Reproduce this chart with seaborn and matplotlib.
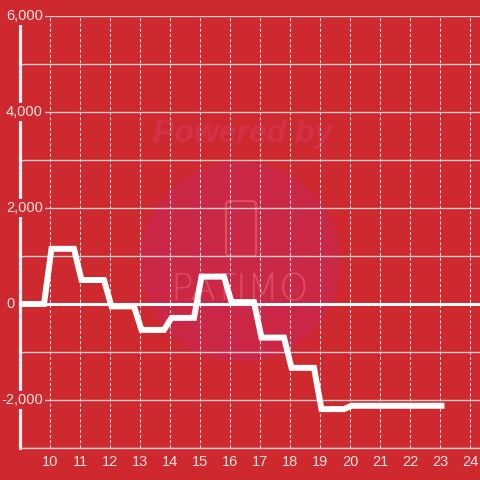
import matplotlib
matplotlib.use("Agg")
import matplotlib.pyplot as plt
import seaborn as sns
from matplotlib.patches import Circle, FancyBboxPatch

# --- Data (hour of day, value) ---
hours = [9.0, 9.8, 10.05, 10.8, 11.05, 11.8, 12.05, 12.8, 13.05, 13.8, 14.05, 14.8,
         15.05, 15.8, 16.05, 16.8, 17.05, 17.8, 18.05, 18.8, 19.05, 19.8, 20.05, 23.05]
values = [0, 0, 1150, 1150, 500, 500, -50, -50, -540, -540, -290, -290,
          570, 570, 40, 40, -700, -700, -1330, -1330, -2190, -2190, -2120, -2120]

x_ticks = list(range(10, 25))
y_grid = list(range(-3000, 7000, 1000))
y_labels = [6000, 4000, 2000, 0, -2000]

bg = "#cd292e"
label_col = "#f2e4e4"

sns.set_style("white")
plt.rcParams["font.family"] = ["Liberation Sans", "DejaVu Sans"]

fig = plt.figure(figsize=(4.8, 4.8), dpi=100, facecolor=bg)
ax = fig.add_axes([20 / 480, 32 / 480, 460 / 480, 432 / 480])
ax.set_facecolor("none")

# --- watermark ---
fig.patches.append(Circle((240 / 480, 1 - 262 / 480), 100 / 480, transform=fig.transFigure,
                          facecolor="#cb2747", edgecolor="none", zorder=-1))
fig.patches.append(FancyBboxPatch((226 / 480, 1 - 256 / 480), 30 / 480, 55 / 480,
                                  boxstyle="round,pad=0,rounding_size=0.008",
                                  transform=fig.transFigure, facecolor="none",
                                  edgecolor="#d8505e", lw=1.6, zorder=-1))
fig.text(243 / 480, 1 - 134 / 480, "Powered by", ha="center", va="center", fontsize=23,
         fontweight="bold", fontstyle="italic", color="#d3304a", zorder=-1)
fig.text(240 / 480, 1 - 290 / 480, "PATIMO", ha="center", va="center", fontsize=27,
         fontweight="light", color="#d8505e", family="DejaVu Sans", zorder=-1)

# --- line ---
sns.lineplot(x=hours, y=values, sort=False, estimator=None, color="white",
             linewidth=4.3, ax=ax, zorder=4)
for ln in ax.lines:
    ln.set_solid_joinstyle("miter")
    ln.set_solid_capstyle("projecting")

ax.set_xlim(9, 9 + 460 / 30)
ax.set_ylim(-3000, 6000)

ax.set_xticks(x_ticks)
ax.set_xticklabels([str(t) for t in x_ticks])
ax.set_yticks(y_grid)
ax.set_yticklabels([])
ax.tick_params(axis="x", length=0, pad=5, labelsize=10.5, labelcolor=label_col)
ax.tick_params(axis="y", length=0)

ax.xaxis.grid(True, color="#e6e0e0", linewidth=0.75, linestyle=(0, (3, 2)))
ax.yaxis.grid(True, color="#cccccc", linewidth=1.0)
ax.set_axisbelow(True)
ax.axhline(0, color="white", linewidth=2.2, zorder=3)

for s in ["top", "right"]:
    ax.spines[s].set_visible(False)
ax.spines["bottom"].set_color("#cccccc")
ax.spines["bottom"].set_linewidth(1.0)
ax.spines["left"].set_color("#f4f0f0")
ax.spines["left"].set_linewidth(2.3)
ax.spines["left"].set_bounds(-3000, 5830)

ytr = ax.get_yaxis_transform()
for v in y_labels:
    xpos = 43 if v != 0 else 15
    ax.text((xpos - 20) / 460, v, f"{v:,}".replace("−", "-"), transform=ytr,
            ha="right", va="center", fontsize=10.5, color=label_col, zorder=5,
            bbox=dict(facecolor=bg, edgecolor="none", pad=1.2), clip_on=False)

fig.savefig("out.png", dpi=100, facecolor=bg)
